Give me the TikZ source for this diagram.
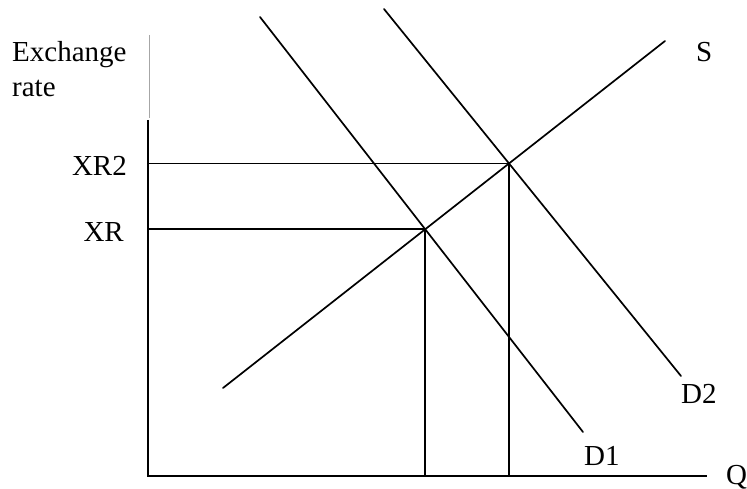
\documentclass[tikz,border=0pt]{standalone}
\usepackage{fontspec}
\setmainfont{Liberation Serif}
\usetikzlibrary{intersections}
\begin{document}
\begin{tikzpicture}[x=1pt,y=-1pt,
  curve/.style={line width=1.7pt, line cap=round},
  axis/.style={line width=1.9pt},
  guide/.style={line width=1.9pt},
  lbl/.style={inner sep=0pt, font=\fontsize{29}{34}\selectfont}]
\useasboundingbox (0,0) rectangle (747,489);
% coordinates
\coordinate (O) at (148,476);
\coordinate (Ytop) at (148,120);
\coordinate (Xend) at (707,476);
\coordinate (G1) at (149,35);
\coordinate (G2) at (149,118);
\coordinate (D1a) at (260,17);
\coordinate (D1b) at (583,432);
\coordinate (D2a) at (384,9);
\coordinate (D2b) at (681,376);
\coordinate (Sa) at (223,388);
\coordinate (Sb) at (665,41);
% faint line
\draw[gray!70, line width=0.7pt] (G1) -- (G2);
% axes
\draw[axis] (Ytop) -- (O) -- (Xend);
% curves
\draw[curve, name path=S] (Sa) -- (Sb);
\draw[curve, name path=D1] (D1a) -- (D1b);
\draw[curve, name path=D2] (D2a) -- (D2b);
\path[name intersections={of=S and D1, by=E1}];
\path[name intersections={of=S and D2, by=E2}];
\coordinate (E1y) at (O |- E1);
\coordinate (E1x) at (E1 |- O);
\coordinate (E2y) at (O |- E2);
\coordinate (E2x) at (E2 |- O);
\draw[guide] (E1y) -- (E1) -- (E1x);
\draw[guide] (E2y) -- (E2) -- (E2x);
% labels
\node[lbl, anchor=base west] (ex) at (12,62) {Exchange};
\node[lbl, anchor=base west] (rt) at (12,97) {rate};
\node[lbl, anchor=base east] (xr2) at (127,176) {XR2};
\node[lbl, anchor=base east] (xr) at (124,242) {XR};
\node[lbl, anchor=base west] (sl) at (696,62) {S};
\node[lbl, anchor=base west] (d2l) at (681,403) {D2};
\node[lbl, anchor=base west] (d1l) at (584,465) {D1};
\node[lbl, anchor=base west] (ql) at (726,484) {Q};
\end{tikzpicture}
\end{document}
